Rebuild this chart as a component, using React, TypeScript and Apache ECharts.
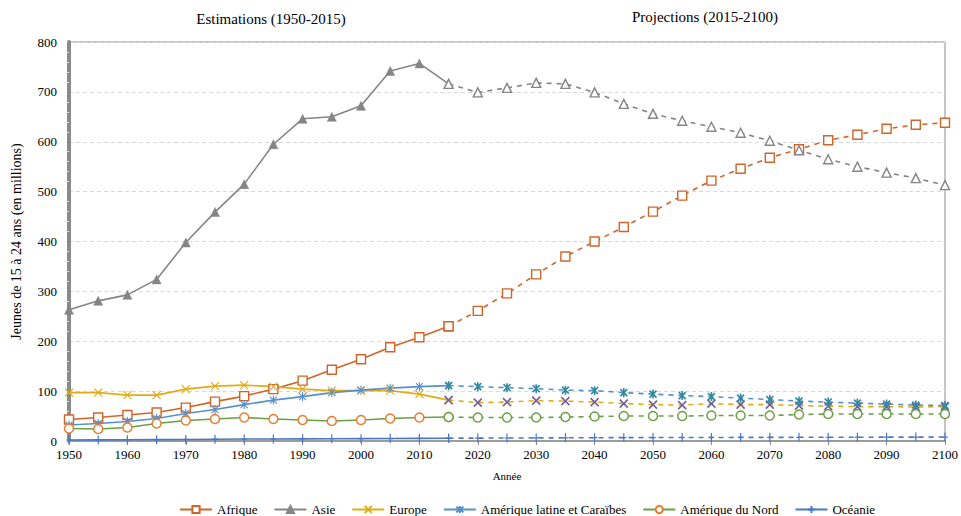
import React, { useEffect, useRef } from "react";
import * as echarts from "echarts";

const estYears = [1950, 1955, 1960, 1965, 1970, 1975, 1980, 1985, 1990, 1995, 2000, 2005, 2010, 2015];
const projYears = [2015, 2020, 2025, 2030, 2035, 2040, 2045, 2050, 2055, 2060, 2065, 2070, 2075, 2080, 2085, 2090, 2095, 2100];

const afriqueEst = [43, 47, 52, 57, 67, 79, 90, 104, 121, 143, 164, 188, 208, 230];
const afriqueProj = [230, 261, 296, 334, 370, 400, 429, 460, 492, 522, 546, 568, 585, 603, 614, 626, 634, 638];

const asieEst = [263, 281, 293, 324, 398, 459, 515, 595, 646, 650, 672, 742, 757, 716];
const asieProj = [716, 699, 708, 718, 716, 699, 676, 656, 642, 630, 618, 602, 583, 565, 550, 538, 527, 513];

const europeEst = [97, 97, 92, 92, 104, 110, 112, 109, 104, 101, 101, 101, 94, 82];
const europeProj = [82, 77, 78, 81, 80, 78, 75, 73, 72, 75, 73, 73, 71, 70, 69, 69, 68, 69];

const latineEst = [32, 35, 39, 45, 55, 63, 73, 82, 89, 97, 102, 106, 109, 111];
const latineProj = [111, 109, 107, 105, 102, 101, 97, 94, 91, 89, 86, 83, 80, 78, 76, 74, 72, 71];

const nordEst = [25, 24, 27, 35, 41, 44, 47, 44, 42, 40, 42, 45, 47, 48];
const nordProj = [48, 47, 47, 47, 48, 49, 50, 50, 50, 51, 51, 51, 53, 54, 54, 54, 54, 54];

const oceanieEst = [2, 2.2, 2.4, 2.7, 3.1, 3.6, 3.9, 4.1, 4.3, 4.5, 4.7, 4.9, 5.3, 5.6];
const oceanieProj = [5.6, 5.8, 6, 6.2, 6.4, 6.6, 6.8, 6.9, 7, 7.1, 7.2, 7.3, 7.4, 7.5, 7.6, 7.7, 7.8, 7.9];

const legendNames = ["Afrique", "Asie", "Europe", "Amérique latine et Caraïbes", "Amérique du Nord", "Océanie"];
const titleEst = "Estimations (1950-2015)";
const titleProj = "Projections (2015-2100)";
const yName = "Jeunes de 15 à 24 ans (en millions)";
const xName = "Année";

const C_AFR = "#d0652a";
const C_ASIE = "#858585";
const C_EUR = "#e2ac14";
const C_LAT = "#5590cc";
const C_LAT_M = "#2f8aa0";
const C_NORD = "#6aa043";
const C_NORD_M = "#ec7a2e";
const C_EUR_M = "#75609c";
const C_OCE = "#4a78c8";

const SYM_X = "path://M0,0L10,10M10,0L0,10";
const SYM_STAR = "path://M0,0L10,10M10,0L0,10M5,-1.5L5,11.5";
const SYM_PLUS = "path://M5,0L5,10M2,5L8,5";

const FONT = "'Liberation Serif', 'Times New Roman', serif";

function pairs(years: number[], vals: number[]) {
  return years.map((y, i) => [y, vals[i]]);
}

export default function App() {
  const ref = useRef<HTMLDivElement>(null);
  useEffect(() => {
    document.body.style.margin = "0";
    const chart = echarts.init(ref.current!, null, { renderer: "svg" });

    const mk = (
      name: string,
      data: number[][],
      lineColor: string,
      symbol: string,
      size: number,
      fill: string,
      border: string,
      dashed: boolean,
      bw = 1.4
    ) => ({
      type: "line",
      name,
      data,
      symbol,
      symbolSize: size,
      showAllSymbol: true,
      symbolKeepAspect: true,
      lineStyle: { color: lineColor, width: 1.6, type: dashed ? [5, 5] : "solid" },
      itemStyle: { color: fill, borderColor: border, borderWidth: bw },
      emphasis: { disabled: true },
    });

    const series = [
      mk("Afrique", pairs(estYears, afriqueEst), C_AFR, "rect", 9, "#fff", C_AFR, false),
      mk("Afrique proj", pairs(projYears, afriqueProj), C_AFR, "rect", 9, "#fff", C_AFR, true),
      mk("Asie", pairs(estYears, asieEst), C_ASIE, "triangle", 9, C_ASIE, C_ASIE, false, 0.5),
      mk("Asie proj", pairs(projYears, asieProj), C_ASIE, "triangle", 9, "#fff", C_ASIE, true),
      mk("Europe", pairs(estYears, europeEst), C_EUR, SYM_X, 8, "none", C_EUR, false, 1.2),
      mk("Europe proj", pairs(projYears, europeProj), C_EUR, SYM_X, 8, "none", C_EUR_M, true, 1.6),
      mk("Amérique latine et Caraïbes", pairs(estYears, latineEst), C_LAT, SYM_STAR, 9, "none", C_LAT, false, 1.1),
      mk("Amérique latine proj", pairs(projYears, latineProj), C_LAT, SYM_STAR, 9, "none", C_LAT_M, true, 1.6),
      mk("Amérique du Nord", pairs(estYears, nordEst), C_NORD, "circle", 9, "#fff", C_NORD_M, false, 1.5),
      mk("Amérique du Nord proj", pairs(projYears, nordProj), C_NORD, "circle", 9, "#fff", C_NORD, true, 1.5),
      mk("Océanie", pairs(estYears, oceanieEst), C_OCE, SYM_PLUS, 9, "none", C_OCE, false, 1.2),
      mk("Océanie proj", pairs(projYears, oceanieProj), C_OCE, SYM_PLUS, 9, "none", C_OCE, true, 1.2),
    ];

    chart.setOption({
      animation: false,
      backgroundColor: "#fff",
      textStyle: { fontFamily: FONT },
      title: [
        { text: titleEst, left: 266, top: 6, textAlign: "center", textStyle: { fontFamily: FONT, fontWeight: "normal", fontSize: 15, color: "#000" } },
        { text: titleProj, left: 700, top: 4, textAlign: "center", textStyle: { fontFamily: FONT, fontWeight: "normal", fontSize: 15, color: "#000" } },
      ],
      legend: {
        data: legendNames,
        left: 174,
        top: 498,
        itemWidth: 32,
        itemHeight: 9,
        itemGap: 16,
        textStyle: { fontFamily: FONT, fontSize: 13, color: "#000" },
      },
      grid: { left: 69, right: 15, top: 42, bottom: 75, show: true, borderColor: "#8c8c8c", borderWidth: 1 },
      xAxis: {
        type: "value",
        min: 1950,
        max: 2100,
        interval: 10,
        name: xName,
        nameLocation: "middle",
        nameGap: 29,
        nameTextStyle: { fontFamily: FONT, fontSize: 11, color: "#000" },
        axisLine: { lineStyle: { color: "#8c8c8c", width: 1.5 } },
        axisTick: { show: true, length: 4, lineStyle: { color: "#8c8c8c" } },
        axisLabel: { fontFamily: FONT, fontSize: 13, color: "#000", margin: 7, formatter: (v: number) => String(v) },
        splitLine: { show: false },
      },
      yAxis: {
        type: "value",
        min: 0,
        max: 800,
        interval: 100,
        name: yName,
        nameLocation: "middle",
        nameGap: 46,
        nameTextStyle: { fontFamily: FONT, fontSize: 14, color: "#000" },
        axisLine: { show: true, lineStyle: { color: "#8a8a8a", width: 4 } },
        axisTick: { show: false },
        minorTick: { show: true, splitNumber: 5, length: 2, lineStyle: { color: "#e0e0e0", width: 1 } },
        axisLabel: { fontFamily: FONT, fontSize: 13, color: "#000", margin: 12 },
        splitLine: { show: true, lineStyle: { color: "#d9d9d9", type: [4, 3] } },
      },
      series,
    });
    return () => chart.dispose();
  }, []);
  return <div ref={ref} style={{ width: 961, height: 516 }} />;
}
